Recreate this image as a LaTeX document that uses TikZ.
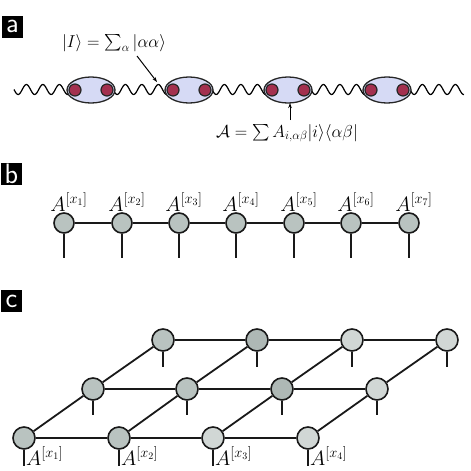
\documentclass[tikz,border=0pt]{standalone}
\usepackage{amsmath}
\DeclareFontShape{OMX}{cmex}{m}{n}{<->cmex10}{}
\usetikzlibrary{arrows.meta,shapes.geometric}
\definecolor{lav}{HTML}{D6DAF5}
\definecolor{dotred}{HTML}{A3304F}
\definecolor{gmid}{HTML}{B9C3C0}
\definecolor{gdark}{HTML}{AEB8B5}
\definecolor{glight}{HTML}{D1D7D5}
\begin{document}
\begin{tikzpicture}[x=1pt,y=-1pt,
  panel/.style={fill=black,text=white,inner sep=0pt,minimum width=21pt,minimum height=22pt,font=\sffamily\fontsize{28}{28}\selectfont},
  bubble/.style={ellipse,draw=black!85,line width=1.3pt,fill=lav,minimum width=48pt,minimum height=26pt,inner sep=0pt},
  reddot/.style={circle,draw=black!85,line width=1.2pt,fill=dotred,minimum size=12pt,inner sep=0pt},
  site/.style={circle,draw=black!90,line width=1.6pt,minimum size=20pt,inner sep=0pt},
  gsite/.style={circle,draw=black!90,line width=1.6pt,minimum size=22pt,inner sep=0pt},
  lbl/.style={font=\fontsize{16.5}{20}\selectfont,inner sep=0pt},
  albl/.style={font=\fontsize{20}{24}\selectfont,inner sep=0pt},
  bond/.style={line width=1.8pt,black!90},
  arr/.style={line width=1pt,-{Stealth[length=5pt,width=3.5pt]}}
]
\useasboundingbox (0,0) rectangle (471,471);

% ---- panel a ----
\node[panel] (pa) at (12.5,26.5) {a};
\draw[line width=1.2pt] plot[domain=14:464,samples=500,smooth] (\x,{89.5+5*sin(21.818*(\x-14))});
\foreach \c [count=\k] in {91,189,288,387}{
  \node[bubble] (e\k) at (\c,90) {};
  \node[reddot] (dl\k) at (\c-16,90) {};
  \node[reddot] (dr\k) at (\c+16,90) {};
}
\node[lbl] (la) at (114,43) {$|I\rangle = \sum_\alpha |\alpha\alpha\rangle$};
\coordinate (a1s) at (137,56);
\coordinate (w1) at (157,82);
\draw[arr] (a1s) -- (w1);
\node[lbl] (lA) at (287,133) {$\mathcal{A} = \sum A_{i,\alpha\beta}|i\rangle\langle\alpha\beta|$};
\coordinate (a2s) at (290,120);
\coordinate (a2e) at (290,103);
\draw[arr] (a2s) -- (a2e);

% ---- panel b ----
\node[panel] (pb) at (11.5,174) {b};
\foreach \xx [count=\i] in {64,122,179,236,294,351,409}{
  \node[site,fill=gmid] (b\i) at (\xx,223) {};
  \coordinate (bl\i) at (\xx,258);
  \draw[bond] (b\i) -- (bl\i);
  \node[albl,anchor=base] (bt\i) at (\xx+5,211) {$A^{[x_{\i}]}$};
}
\foreach \i/\j in {1/2,2/3,3/4,4/5,5/6,6/7}{
  \draw[bond] (b\i) -- (b\j);
}

% ---- panel c ----
\node[panel] (pc) at (11.5,301) {c};
\foreach \xx/\col [count=\i] in {24/gmid,119/gmid,213/glight,308/glight}{
  \node[gsite,fill=\col] (f\i) at (\xx,438) {};
  \coordinate (fl\i) at (\xx,466);
  \draw[bond] (f\i) -- (fl\i);
  \node[albl,anchor=base west] (ct\i) at (\xx+2,465) {$A^{[x_{\i}]}$};
}
\foreach \xx/\col [count=\i] in {93/gmid,187/gmid,282/gdark,377/glight}{
  \node[gsite,fill=\col] (m\i) at (\xx,389) {};
  \coordinate (ml\i) at (\xx,415);
  \draw[bond] (m\i) -- (ml\i);
}
\foreach \xx/\col [count=\i] in {163/gmid,257/gdark,352/glight,447/glight}{
  \node[gsite,fill=\col] (k\i) at (\xx,340) {};
  \coordinate (kl\i) at (\xx,367);
  \draw[bond] (k\i) -- (kl\i);
}
\foreach \i/\j in {1/2,2/3,3/4}{
  \draw[bond] (f\i) -- (f\j);
  \draw[bond] (m\i) -- (m\j);
  \draw[bond] (k\i) -- (k\j);
}
\foreach \i in {1,...,4}{
  \draw[bond] (f\i) -- (m\i);
  \draw[bond] (m\i) -- (k\i);
}
\end{tikzpicture}
\end{document}
